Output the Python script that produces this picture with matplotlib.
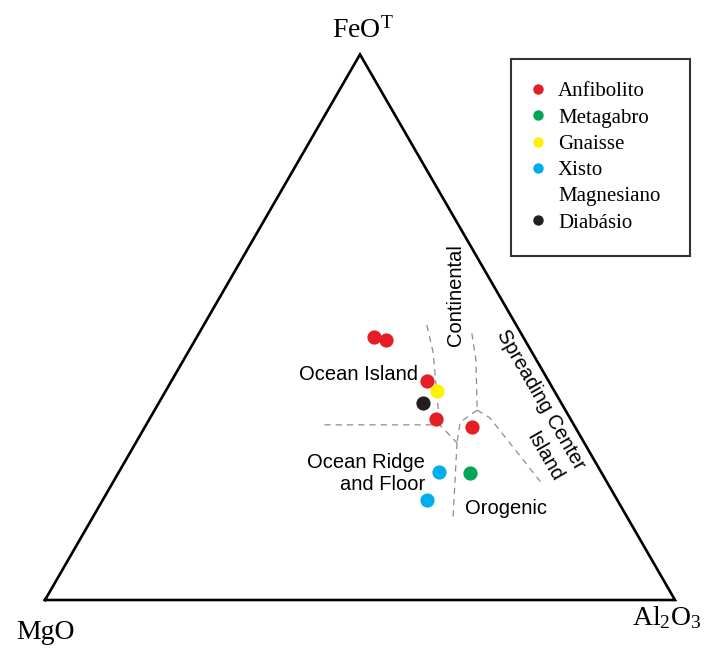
import math
import matplotlib
matplotlib.use("Agg")
import matplotlib.pyplot as plt
from matplotlib.lines import Line2D

plt.rcParams["font.family"] = ["Liberation Sans", "DejaVu Sans"]
plt.rcParams["mathtext.fontset"] = "custom"
plt.rcParams["mathtext.rm"] = "Liberation Serif"
plt.rcParams["mathtext.it"] = "Liberation Serif:italic"

# sample compositions (MgO, FeOT, Al2O3, wt% normalised)
anf_mgo = [23.7, 22.0, 19.3, 21.4, 16.4]
anf_feo = [48.2, 47.7, 40.1, 33.2, 31.7]
anf_al = [28.1, 30.3, 40.6, 45.4, 51.9]
metagabro = (20.9, 23.3, 55.8)
gnaisse = (18.6, 38.3, 43.1)
xisto_mgo = [25.7, 30.2]
xisto_feo = [23.5, 18.3]
xisto_al = [50.8, 51.5]
diabasio = (22.0, 36.1, 41.9)

# field boundaries (Pearce et al. 1977), MgO / FeOT / Al2O3
bnd_ridge_top = [(39.6, 32.1, 28.3), (21.3, 32.1, 46.6), (20.2, 28.8, 51.0)]
bnd_orogenic = [(20.2, 28.8, 51.0), (27.9, 14.7, 57.4)]
bnd_cont_left = [(14.2, 50.4, 35.4), (15.7, 45.4, 38.9), (21.3, 32.1, 46.6)]
bnd_cont_right = [(7.8, 48.9, 43.3), (9.6, 44.0, 46.4), (14.0, 34.8, 51.2)]
bnd_island_left = [(14.0, 34.8, 51.2), (17.8, 32.6, 49.6), (20.2, 28.8, 51.0)]
bnd_island_right = [(14.0, 34.8, 51.2), (12.7, 33.4, 53.9), (10.4, 21.1, 68.5)]

RED = "#E31E24"; GREEN = "#00A651"; YELLOW = "#FFF200"; BLUE = "#00AEEF"; BLACK = "#231F20"
DASH = "#8C8C8C"


def tern(mg, fe, al):
    tot = mg + fe + al
    f = fe / tot
    a = al / tot
    return a + f / 2, f * math.sqrt(3) / 2


def tern_many(mg, fe, al):
    pts = [tern(m, f, a) for m, f, a in zip(mg, fe, al)]
    return [p[0] for p in pts], [p[1] for p in pts]


fig = plt.figure(figsize=(7.05, 6.48), dpi=100)
ax = fig.add_axes([0, 0, 1, 1])
ax.set_xlim(-45 / 630, 660 / 630)
ax.set_ylim(-48 / 630, 600 / 630)
ax.axis("off")

# outer triangle
corners = [tern(100, 0, 0), tern(0, 0, 100), tern(0, 100, 0), tern(100, 0, 0)]
ax.plot([c[0] for c in corners], [c[1] for c in corners], color="black", lw=1.9,
        solid_joinstyle="miter", zorder=2)

# dashed field boundaries
for seg in [bnd_ridge_top, bnd_orogenic, bnd_cont_left, bnd_cont_right,
            bnd_island_left, bnd_island_right]:
    xs, ys = tern_many(*zip(*seg))
    ax.plot(xs, ys, color=DASH, lw=0.9, dashes=(5, 4), zorder=1)

# samples
kw = dict(s=105, linewidths=0, zorder=3)
x, y = tern_many(anf_mgo, anf_feo, anf_al)
ax.scatter(x, y, color=RED, **kw)
x, y = tern(*metagabro)
ax.scatter([x], [y], color=GREEN, **kw)
x, y = tern(*gnaisse)
ax.scatter([x], [y], color=YELLOW, **kw)
x, y = tern_many(xisto_mgo, xisto_feo, xisto_al)
ax.scatter(x, y, color=BLUE, **kw)
x, y = tern(*diabasio)
ax.scatter([x], [y], color=BLACK, **kw)

# field names
fs = 14.5
ax.text(0.592, 0.358, "Ocean Island", ha="right", va="center", fontsize=fs)
ax.text(0.652, 0.484, "Continental", ha="center", va="center", rotation=90, fontsize=fs)
ax.text(0.787, 0.318, "Spreading Center", ha="center", va="center", rotation=-60,
        rotation_mode="anchor", fontsize=fs)
ax.text(0.792, 0.228, "Island", ha="center", va="center", rotation=-60,
        rotation_mode="anchor", fontsize=fs)
ax.text(0.603, 0.201, "Ocean Ridge\nand Floor", ha="right", va="center", fontsize=fs,
        multialignment="right", linespacing=1.2)
ax.text(0.732, 0.146, "Orogenic", ha="center", va="center", fontsize=fs)

# apex labels
serif = ["Liberation Serif", "DejaVu Serif"]
ax.text(0.505, 0.892, r"FeO$^{\mathrm{T}}$", ha="center", va="baseline", fontsize=20, family=serif)
ax.text(0.0, -0.062, "MgO", ha="center", va="baseline", fontsize=20, family=serif)
ax.text(0.987, -0.040, r"Al$_{2}$O$_{3}$", ha="center", va="baseline", fontsize=20, family=serif)

# legend
def dot(c, ms=7.5):
    return Line2D([], [], ls="none", marker="o", ms=ms, mfc=c, mec="none")

handles = [dot(RED), dot(GREEN), dot(YELLOW), dot(BLUE), dot("none"), dot(BLACK)]
labels = ["Anfibolito", "Metagabro", "Gnaisse", "Xisto", "Magnesiano", "Diabásio"]
leg = fig.legend(handles, labels, loc="upper left", mode="expand",
                 bbox_to_anchor=(511 / 705, 1 - 250 / 648, 179 / 705, 191 / 648),
                 prop={"family": serif, "size": 15}, frameon=True, fancybox=False,
                 edgecolor="black", borderpad=1.1, labelspacing=0.32,
                 handlelength=0.4, handletextpad=0.75, borderaxespad=0)
leg.get_frame().set_linewidth(1.5)

fig.savefig("out.png", dpi=100, facecolor="white")
